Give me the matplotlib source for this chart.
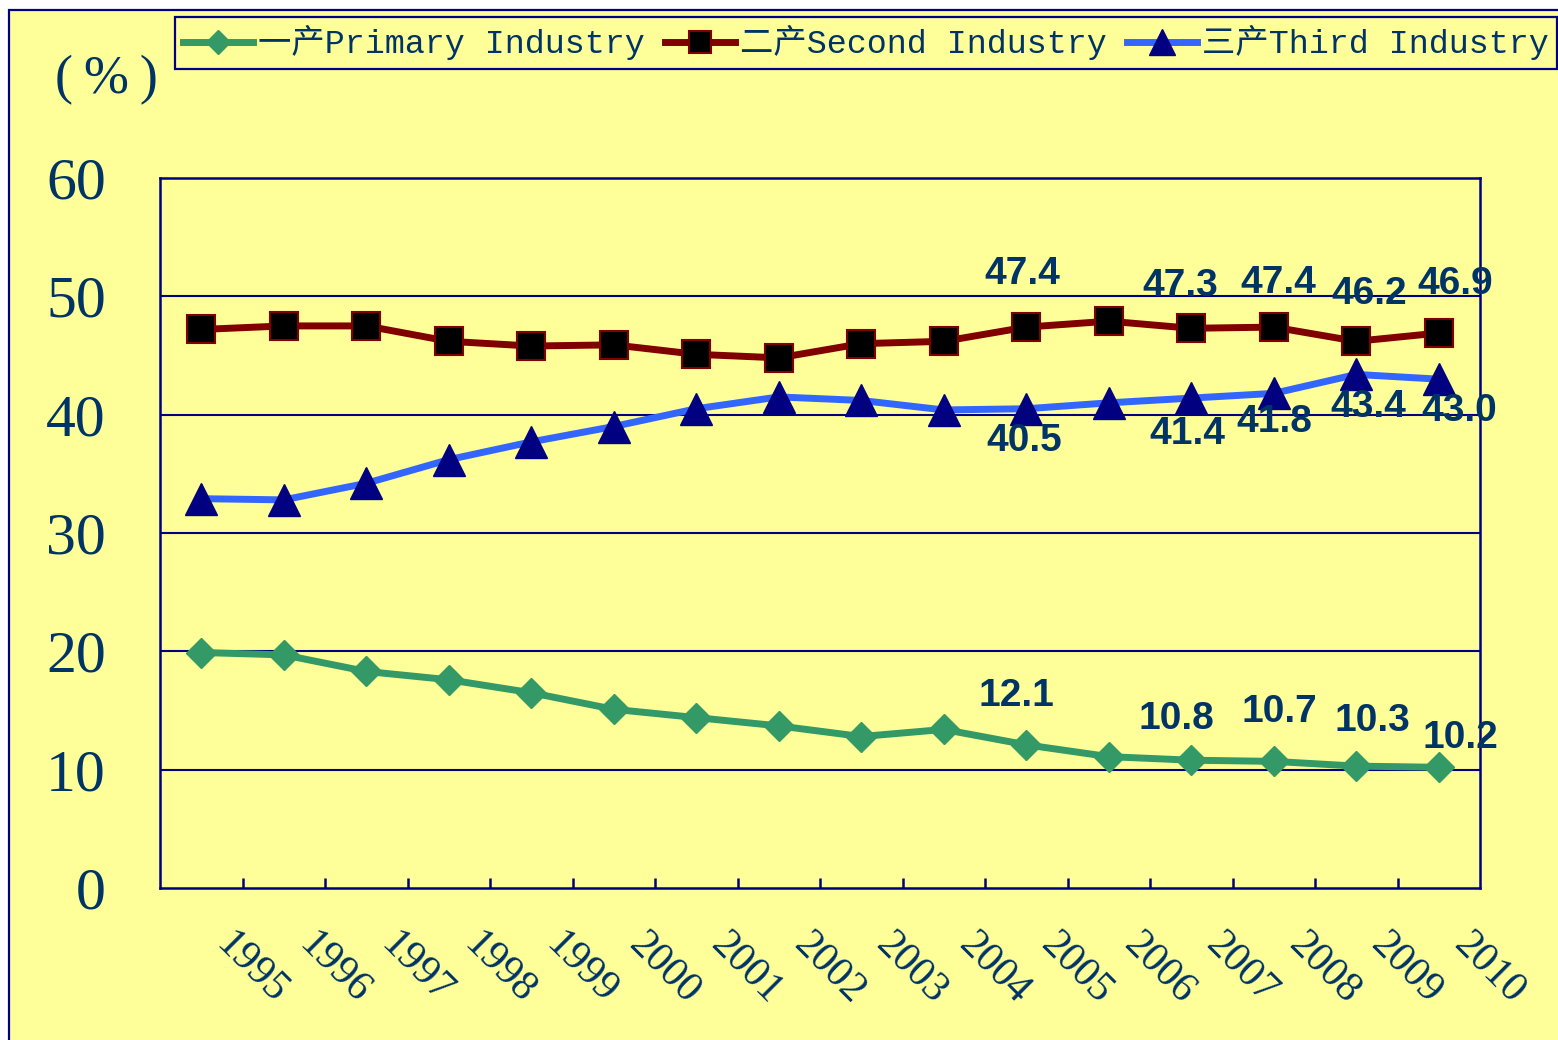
import numpy as np
import matplotlib.pyplot as plt
from matplotlib.patches import Rectangle
from matplotlib.transforms import ScaledTranslation

# data
years = ['1995', '1996', '1997', '1998', '1999', '2000', '2001', '2002',
         '2003', '2004', '2005', '2006', '2007', '2008', '2009', '2010']
primary = [19.9, 19.7, 18.3, 17.6, 16.5, 15.1, 14.4, 13.7,
           12.8, 13.4, 12.1, 11.1, 10.8, 10.7, 10.3, 10.2]
second = [47.2, 47.5, 47.5, 46.2, 45.8, 45.9, 45.1, 44.8,
          46.0, 46.2, 47.4, 47.9, 47.3, 47.4, 46.2, 46.9]
third = [32.9, 32.8, 34.2, 36.2, 37.7, 39.0, 40.5, 41.5,
         41.2, 40.4, 40.5, 41.0, 41.4, 41.8, 43.4, 43.0]
names = ['一产Primary Industry', '二产Second Industry', '三产Third Industry']

# which years get value labels, and label offsets in pixels
labeled = [10, 12, 13, 14, 15]
off_primary = [(-10, 49), (-15, 41), (6, 49), (16, 45), (22, 29)]
off_second = [(-4, 53), (-11, 42), (5, 44), (13, 47), (16, 49)]
off_third = [(-2, -32), (-4, -36), (1, -29), (12, -33), (20, -32)]

bg = '#FFFF99'
navy = '#000080'
txt = '#003366'

plt.rcParams['font.family'] = ['Liberation Serif', 'DejaVu Serif']

fig = plt.figure(figsize=(15.58, 10.4), dpi=100, facecolor='white')
fig.patches.append(Rectangle((9 / 1558, -0.02), 1.05, 1 - 10 / 1040 + 0.02,
                             transform=fig.transFigure, facecolor=bg,
                             edgecolor=navy, linewidth=1.6, zorder=-10))
ax = fig.add_axes([160 / 1558, 1 - 888 / 1040, 1320 / 1558, 710 / 1040])
ax.set_facecolor(bg)

x = np.arange(len(years))
l1, = ax.plot(x, primary, color='#339966', lw=5, marker='D', ms=15.5,
              mfc='#339966', mec='#339966', zorder=4)
l2, = ax.plot(x, second, color='#800000', lw=5, marker='s', ms=20,
              mfc='black', mec='#800000', mew=1.5, zorder=4)
l3, = ax.plot(x, third, color='#3366FF', lw=5, marker='^', ms=23,
              mfc=navy, mec=navy, zorder=4)

ax.set_xlim(-0.5, len(years) - 0.5)
ax.set_ylim(0, 60)
for y in range(10, 60, 10):
    ax.axhline(y, color=navy, lw=1.5, zorder=1)

for s in ax.spines.values():
    s.set_color(navy)
    s.set_linewidth(1.8)

ax.set_yticks(range(0, 61, 10))
ax.set_yticklabels([str(v) for v in range(0, 61, 10)], fontsize=43, color=txt)
ax.tick_params(axis='y', length=0, pad=39)

ax.set_xticks(x)
ax.set_xticklabels(years, fontsize=30, color=txt, rotation=-45,
                   rotation_mode='anchor', ha='left', va='top')
ax.tick_params(axis='x', which='major', length=0, pad=27)
ax.set_xticks(np.arange(0.5, len(years) - 1, 1), minor=True)
ax.tick_params(axis='x', which='minor', direction='in', length=7,
               width=1.8, color=navy)
for lab in ax.get_xticklabels():
    lab.set_transform(lab.get_transform() + ScaledTranslation(0.34, 0, fig.dpi_scale_trans))

# value labels
for series, offs in [(primary, off_primary), (second, off_second), (third, off_third)]:
    for i, (dx, dy) in zip(labeled, offs):
        ax.annotate(f'{series[i]:.1f}', (x[i], series[i]), xytext=(dx, dy),
                    textcoords='offset pixels', ha='center', va='center',
                    fontsize=28, fontweight='bold', color=txt,
                    family='Liberation Sans', zorder=6, annotation_clip=False)

fig.text(106 / 1558, 1 - 80 / 1040, '(\u2009%\u2009)', fontsize=39, color=txt,
         ha='center', va='center')

leg = fig.legend([l1, l2, l3], names, loc='upper left', ncol=3,
                 bbox_to_anchor=(175 / 1558, 1 - 17 / 1040), borderaxespad=0,
                 prop={'family': ['Liberation Mono', 'Noto Sans CJK SC'], 'size': 24},
                 handlelength=2.1, handletextpad=0.15, columnspacing=0.6,
                 markerscale=0.8, borderpad=0.25, frameon=True, fancybox=False)
leg.get_frame().set_facecolor(bg)
leg.get_frame().set_edgecolor(navy)
leg.get_frame().set_linewidth(1.6)
leg.get_frame().set_alpha(1)
for t in leg.get_texts():
    t.set_color(txt)

fig.savefig('out.png', dpi=100, facecolor=fig.get_facecolor())
